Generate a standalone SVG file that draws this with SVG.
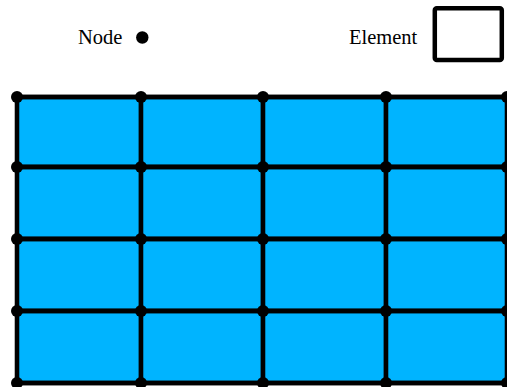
<svg xmlns="http://www.w3.org/2000/svg" width="507" height="387" viewBox="0 0 507 387">
<style>
.ln{stroke:#000;stroke-width:4.3;fill:none;stroke-linecap:round}
.nd{fill:#000}
.cell{fill:#00B4FF;stroke:#000;stroke-width:4.3;stroke-linejoin:round}
</style>
<rect width="507" height="387" fill="#fff"/>
<g id="legend">
<text x="78" y="43.5" font-family="Liberation Serif, DejaVu Serif, serif" font-size="20.5" fill="#000">Node</text>
<circle class="nd" cx="142.3" cy="37.5" r="6.2"/>
<text x="349" y="43.5" font-family="Liberation Serif, DejaVu Serif, serif" font-size="20.5" fill="#000">Element</text>
<rect x="434.8" y="8.3" width="67" height="51.7" rx="2" fill="#fff" stroke="#000" stroke-width="4.5"/>
</g>
<g id="elements">
<rect class="cell" x="17" y="97" width="124" height="70" rx="3"/>
<rect class="cell" x="141" y="97" width="122" height="70" rx="3"/>
<rect class="cell" x="263" y="97" width="123" height="70" rx="3"/>
<rect class="cell" x="386" y="97" width="121" height="70" rx="3"/>
<rect class="cell" x="17" y="167" width="124" height="72" rx="3"/>
<rect class="cell" x="141" y="167" width="122" height="72" rx="3"/>
<rect class="cell" x="263" y="167" width="123" height="72" rx="3"/>
<rect class="cell" x="386" y="167" width="121" height="72" rx="3"/>
<rect class="cell" x="17" y="239" width="124" height="72" rx="3"/>
<rect class="cell" x="141" y="239" width="122" height="72" rx="3"/>
<rect class="cell" x="263" y="239" width="123" height="72" rx="3"/>
<rect class="cell" x="386" y="239" width="121" height="72" rx="3"/>
<rect class="cell" x="17" y="311" width="124" height="72" rx="3"/>
<rect class="cell" x="141" y="311" width="122" height="72" rx="3"/>
<rect class="cell" x="263" y="311" width="123" height="72" rx="3"/>
<rect class="cell" x="386" y="311" width="121" height="72" rx="3"/>
</g>
<g id="connectors">
<path class="ln" d="M17 97H507M17 167H507M17 239H507M17 311H507M17 383H507M17 97V383M141 97V383M263 97V383M386 97V383M507 97V383"/>
</g>
<g id="nodes">
<circle class="nd" cx="17" cy="97" r="6"/><circle class="nd" cx="141" cy="97" r="6"/><circle class="nd" cx="263" cy="97" r="6"/><circle class="nd" cx="386" cy="97" r="6"/><circle class="nd" cx="507" cy="97" r="6"/>
<circle class="nd" cx="17" cy="167" r="6"/><circle class="nd" cx="141" cy="167" r="6"/><circle class="nd" cx="263" cy="167" r="6"/><circle class="nd" cx="386" cy="167" r="6"/><circle class="nd" cx="507" cy="167" r="6"/>
<circle class="nd" cx="17" cy="239" r="6"/><circle class="nd" cx="141" cy="239" r="6"/><circle class="nd" cx="263" cy="239" r="6"/><circle class="nd" cx="386" cy="239" r="6"/><circle class="nd" cx="507" cy="239" r="6"/>
<circle class="nd" cx="17" cy="311" r="6"/><circle class="nd" cx="141" cy="311" r="6"/><circle class="nd" cx="263" cy="311" r="6"/><circle class="nd" cx="386" cy="311" r="6"/><circle class="nd" cx="507" cy="311" r="6"/>
<circle class="nd" cx="17" cy="383" r="6"/><circle class="nd" cx="141" cy="383" r="6"/><circle class="nd" cx="263" cy="383" r="6"/><circle class="nd" cx="386" cy="383" r="6"/><circle class="nd" cx="507" cy="383" r="6"/>
</g>
</svg>
